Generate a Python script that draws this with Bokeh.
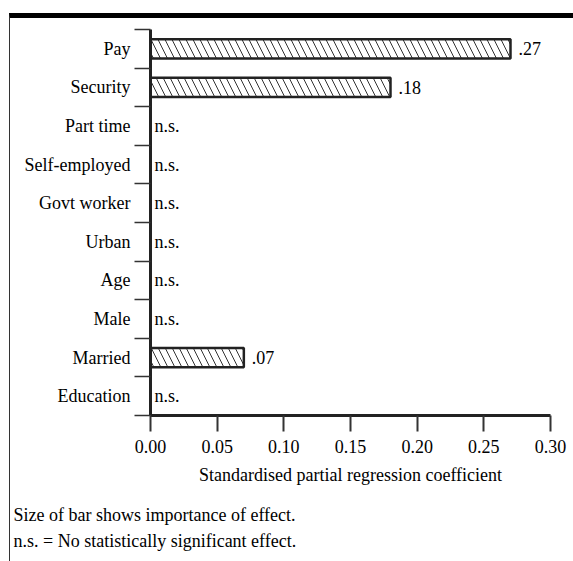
from bokeh.plotting import figure
from bokeh.models import ColumnDataSource, FixedTicker, Range1d, Title
from bokeh.core.properties import value
from bokeh.embed import file_html
from bokeh.resources import INLINE

# ---- data ----
categories = ["Pay", "Security", "Part time", "Self-employed", "Govt worker",
              "Urban", "Age", "Male", "Married", "Education"]
coefficients = [0.27, 0.18, None, None, None, None, None, None, 0.07, None]
value_labels = [".27", ".18", "n.s.", "n.s.", "n.s.", "n.s.", "n.s.", "n.s.", ".07", "n.s."]
x_ticks = [0.00, 0.05, 0.10, 0.15, 0.20, 0.25, 0.30]
x_tick_labels = ["0.00", "0.05", "0.10", "0.15", "0.20", "0.25", "0.30"]
x_axis_title = "Standardised partial regression coefficient"
note_lines = ["Size of bar shows importance of effect.",
              "n.s. = No statistically significant effect."]

FONT = "Liberation Serif"
INK = "#000000"
n = len(categories)
y_centers = [n - i - 0.5 for i in range(n)]
boundaries = [float(b) for b in range(n + 1)]

bar_src = ColumnDataSource(dict(
    y=[y for y, c in zip(y_centers, coefficients) if c is not None],
    right=[c for c in coefficients if c is not None],
))
txt_src = ColumnDataSource(dict(
    y=y_centers,
    x=[c if c is not None else 0.0 for c in coefficients],
    text=value_labels,
    xoff=[8 if c is not None else 4 for c in coefficients],
))

p = figure(frame_width=400, frame_height=386,
           min_border_left=140, min_border_right=23,
           min_border_top=11, min_border_bottom=146,
           x_range=Range1d(0, x_ticks[-1]), y_range=Range1d(0, n),
           output_backend="svg", toolbar_location=None,
           background_fill_color="white", border_fill_color="white")
p.styles = {"margin-top": "13px", "margin-left": "9px",
            "border-top": "5px solid #000000", "border-left": "1px solid #333333"}
p.outline_line_color = None
p.grid.visible = False

p.hbar(y="y", left=0, right="right", height=0.5, source=bar_src,
       fill_color="white", line_color="#222222", line_width=2.5,
       hatch_pattern="\\", hatch_color="#333333", hatch_scale=14, hatch_weight=1)

p.text(x="x", y="y", text="text", source=txt_src, x_offset="xoff",
       text_font=value(FONT), text_font_size="18px", text_color=INK,
       text_baseline="middle", text_align="left")

# x axis
xa = p.xaxis[0]
xa.ticker = FixedTicker(ticks=x_ticks, minor_ticks=[])
xa.major_label_overrides = {t: l for t, l in zip(x_ticks, x_tick_labels)}
xa.axis_line_width = 3
xa.axis_line_color = "#222222"
xa.major_tick_line_width = 2
xa.major_tick_line_color = "#333333"
xa.major_tick_out = 16
xa.major_tick_in = 0
xa.major_label_standoff = 8
xa.major_label_text_font = FONT
xa.major_label_text_font_size = "18px"
xa.major_label_text_color = INK
xa.axis_label = x_axis_title
xa.axis_label_text_font = FONT
xa.axis_label_text_font_size = "18px"
xa.axis_label_text_font_style = "normal"
xa.axis_label_text_color = INK
xa.axis_label_standoff = 9

# y axis
ya = p.yaxis[0]
ya.ticker = FixedTicker(ticks=y_centers, minor_ticks=boundaries)
ya.major_label_overrides = {y: c for y, c in zip(y_centers, categories)}
ya.axis_line_width = 3
ya.axis_line_color = "#222222"
ya.major_tick_line_color = None
ya.major_tick_out = 0
ya.major_tick_in = 0
ya.minor_tick_line_color = "#333333"
ya.minor_tick_line_width = 1.5
ya.minor_tick_out = 16
ya.minor_tick_in = 0
ya.major_label_standoff = 4
ya.major_label_text_font = FONT
ya.major_label_text_font_size = "18px"
ya.major_label_text_color = INK

# footnotes below the chart (two lines, one block)
p.add_layout(Title(text="\n".join(note_lines), align="left", offset=-137, standoff=31,
                   text_font=FONT, text_font_size="18px", text_line_height=1.3,
                   text_font_style="normal", text_color=INK), "below")

open("out.html", "w").write(file_html(p, INLINE))
